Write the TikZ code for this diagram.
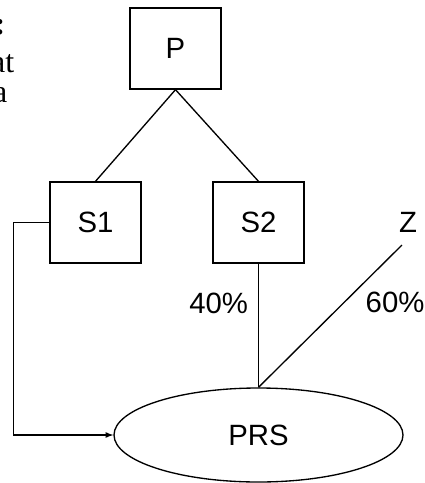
\documentclass[tikz,border=0pt]{standalone}
\usepackage{fontspec}
\setmainfont{Liberation Serif}
\newfontfamily\arialfont{Liberation Sans}
\usetikzlibrary{shapes,arrows}

\begin{document}
\begin{tikzpicture}[
		x=0.75pt,y=-0.75pt,line width=1pt,
		box/.style={rectangle,draw,minimum width=68.25pt,minimum height=60.75pt,inner sep=0pt,
			font=\arialfont\fontsize{22}{26}\selectfont},
		pool/.style={ellipse,draw,minimum width=216.75pt,minimum height=70.5pt,inner sep=0pt,
			font=\arialfont\fontsize{22}{26}\selectfont},
		share/.style={font=\arialfont\fontsize{22}{26}\selectfont},
		margin/.style={anchor=base east,inner sep=0pt,font=\fontsize{24}{28}\selectfont}]
		\useasboundingbox (0,0) rectangle (425,483);
		% Text cut off at the left margin
		\node[margin] (colon) at (6,34) {\textbf{:}};
		\node[margin] (at) at (15,72) {at};
		\node[margin] (a) at (8,102) {a};
		% Parent
		\node[box] (P) at (175.5,48.5) {P};
		% Subsidiaries
		\node[box] (S1) at (95.5,222.5) {S1};
		\node[box] (S2) at (258.5,222.5) {S2};
		% Owned company
		\node[pool] (PRS) at (258.5,435) {PRS};
		% Outside holder
		\node[share] (Z) at (408,222) {Z};
		\coordinate (zend) at (402,245);
		% Links
		\draw (P.south) -- (S1.north);
		\draw (P.south) -- (S2.north);
		\draw (S2.south) -- node[share,left=4pt,pos=0.32] (s2share) {40\%} (PRS.north);
		\draw (PRS.north) -- node[share,right=12pt,pos=0.6] (zshare) {60\%} (zend);
		\draw[-latex] (S1.west) -- ++(-36,0) |- (PRS.west);
\end{tikzpicture}
\end{document}
